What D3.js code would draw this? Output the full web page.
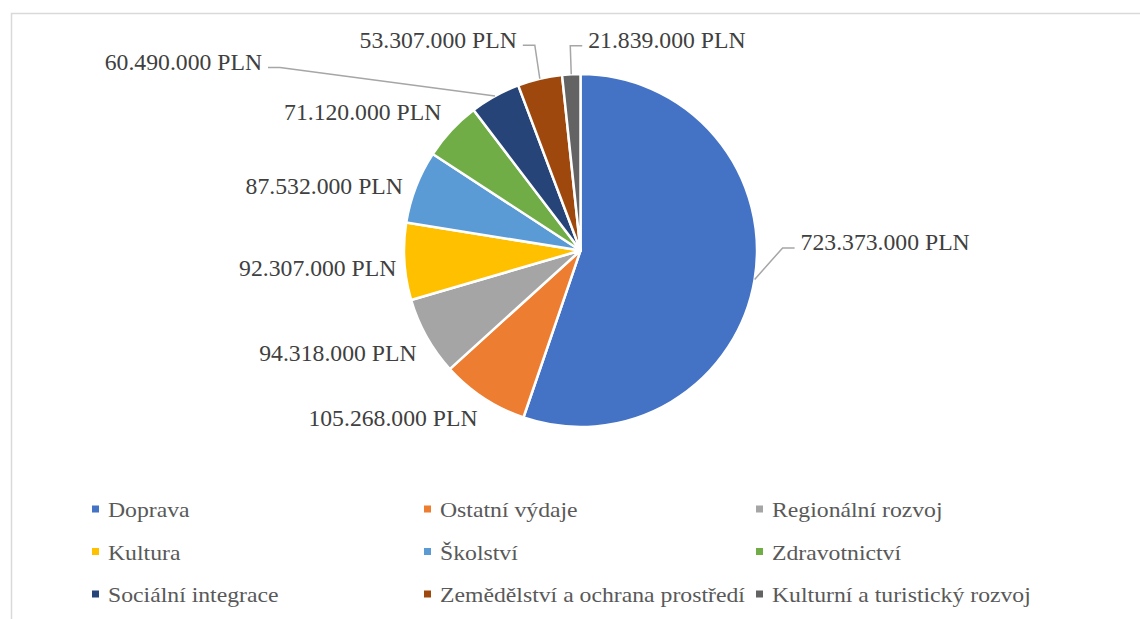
<!DOCTYPE html>
<html><head><meta charset="utf-8">
<script src="https://cdn.jsdelivr.net/npm/d3@7"></script>
<style>
body{margin:0;background:#fff}
svg{display:block}
text{font-family:"Liberation Serif"}
</style>
</head><body>
<svg id="c" width="1140" height="619"></svg>
<script>
const categories = ["Doprava","Ostatní výdaje","Regionální rozvoj","Kultura","Školství","Zdravotnictví","Sociální integrace","Zemědělství a ochrana prostředí","Kulturní a turistický rozvoj"];
const values = [723373000,105268000,94318000,92307000,87532000,71120000,60490000,53307000,21839000];
const colors = ["#4472C4","#ED7D31","#A5A5A5","#FFC000","#5B9BD5","#70AD47","#264478","#9E480E","#636363"];
// label layout: offset from outer arc point at mid-angle, anchor, leader line
const labelLayout = [
  {dx:46, dy:-29, anchor:"start", leader:true},
  {dx:-6, dy:28, anchor:"end", leader:false},
  {dx:-10, dy:24, anchor:"end", leader:false},
  {dx:-8, dy:14, anchor:"end", leader:false},
  {dx:-13, dy:7, anchor:"end", leader:false},
  {dx:-10, dy:-10, anchor:"end", leader:false},
  {dx:-233, dy:-26, anchor:"end", leader:true},
  {dx:-23, dy:-31, anchor:"end", leader:true},
  {dx:17, dy:-26, anchor:"start", leader:true}
];

const svg = d3.select("#c");
const W = 1140, H = 619;
svg.append("path").attr("d", `M11.5,${H} V13.5 H${W}`).attr("fill","none").attr("stroke","#d9d9d9").attr("stroke-width",1.5);

const cx = 580.5, cy = 250.5, R = 176.5;
const fmt = v => d3.format(",")(v).replace(/,/g, ".") + " PLN";
const pie = d3.pie().sort(null).value(d => d)(values);
const arc = d3.arc().innerRadius(0).outerRadius(R);
const g = svg.append("g").attr("transform", `translate(${cx},${cy})`);
g.selectAll("path.slice").data(pie).join("path").attr("class","slice")
  .attr("d", arc).attr("fill", (d,i) => colors[i])
  .attr("stroke","#fff").attr("stroke-width",2.5).attr("stroke-linejoin","round");

pie.forEach((d,i) => {
  const a = (d.startAngle + d.endAngle)/2;
  const ex = R*Math.sin(a), ey = -R*Math.cos(a);
  const L = labelLayout[i];
  const tx = ex + L.dx, ty = ey + L.dy;
  if (L.leader) {
    const s = L.anchor === "end" ? 1 : -1;
    const hy = ty - 2.5;
    g.append("polyline")
      .attr("points", `${tx + s*6},${hy} ${tx + s*18},${hy} ${ex},${ey}`)
      .attr("fill","none").attr("stroke","#a6a6a6").attr("stroke-width",1.5);
  }
  g.append("text").attr("x", tx).attr("y", ty).attr("text-anchor", L.anchor)
    .style("font-size","23.7px")
    .attr("fill","#404040").text(fmt(values[i]));
});

const colX = [92, 424, 756];
const rowY = [517, 559.5, 602];
const lg = svg.append("g");
categories.forEach((c,i) => {
  const x = colX[i%3], y = rowY[Math.floor(i/3)];
  lg.append("rect").attr("x", x).attr("y", y-11.5).attr("width",7).attr("height",7).attr("fill", colors[i]);
  lg.append("text").attr("transform", `translate(${x+16},${y}) scale(1.13,1)`)
    .style("font-size","21px")
    .attr("fill","#595959").text(c);
});
</script>
</body></html>
